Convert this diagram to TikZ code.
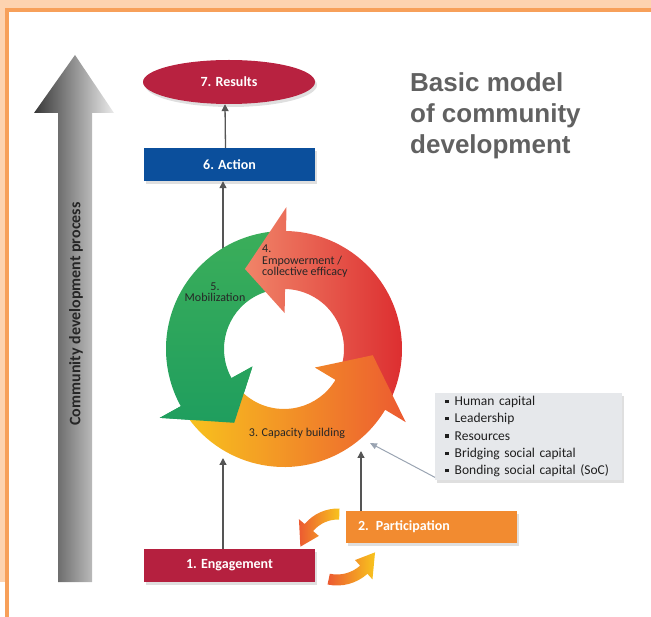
\documentclass[tikz,border=0pt]{standalone}
\usepackage{fontspec}
\setmainfont{Carlito}
\newfontfamily\headfont{Liberation Sans}
\usetikzlibrary{shapes.geometric,arrows.meta,shadows}

\definecolor{resred}{HTML}{B82240}
\definecolor{actblue}{HTML}{0B4F9C}
\definecolor{engred}{HTML}{B5203F}
\definecolor{parorange}{HTML}{F28B30}
\definecolor{boxgray}{HTML}{E6E8EB}
\definecolor{linegray}{HTML}{555555}
\definecolor{pale}{HTML}{FDD3B0}
\definecolor{frame}{HTML}{F7A05A}
\definecolor{salmon}{HTML}{F08468}
\definecolor{deepred}{HTML}{DC2B2E}
\definecolor{sunny}{HTML}{F8C41D}
\definecolor{tangerine}{HTML}{F39A2C}
\definecolor{flame}{HTML}{EC5A31}
\definecolor{leaf}{HTML}{3BAE5A}
\definecolor{leafdark}{HTML}{1F9E5E}
\definecolor{pointer}{HTML}{9AA4B2}

% one arrow of the ring: tail angle, head base angle, tip angle
\newcommand{\ringarrow}[3]{(#1:118pt) arc[start angle=#1, end angle=#2, radius=118pt]
  -- (#2:142pt) -- (#3:89pt) -- (#2:36pt) -- (#2:60pt)
  arc[start angle=#2, end angle=#1, radius=60pt] -- cycle}

\begin{document}
\begin{tikzpicture}[x=1pt, y=1pt,
    stage/.style={rectangle, minimum width=171pt, minimum height=33pt, inner sep=0pt,
      text=white, font=\fontsize{14}{16}\selectfont\bfseries,
      drop shadow={shadow xshift=2pt, shadow yshift=-3pt, opacity=0.25}},
    link/.style={draw=linegray, line width=1.3pt, -{Triangle[length=7pt, width=7pt]}},
    cyclabel/.style={font=\fontsize{12}{11.5}\selectfont, text=black!85, inner sep=0pt}]
    \useasboundingbox (0,0) rectangle (651,-617);

    % page frame
    \fill[pale] (0,0) rectangle (651,-8);
    \fill[pale] (0,0) rectangle (5,-582);
    \fill[frame] (5,-8) rectangle (651,-12);
    \fill[frame] (5,-8) rectangle (8.5,-617);

    % process arrow
    \shade[left color=black!78, right color=black!8]
      (58,-582) -- (58,-113) -- (34,-113) -- (75,-55) -- (114,-113) -- (92,-113) -- (92,-582) -- cycle;
    \node[rotate=90, font=\fontsize{16}{18}\selectfont\bfseries, text=black!85] (proc) at (76,-314) {Community development process};

    % title
    \node[anchor=north west, align=left, inner sep=0pt, text=black!62,
      font=\headfont\fontsize{26}{31}\selectfont\bfseries] (title) at (410,-72)
      {Basic model\\of community\\development};

    % stages
    \node[ellipse, fill=resred, minimum width=172pt, minimum height=44pt, inner sep=0pt,
      text=white, font=\fontsize{14}{16}\selectfont\bfseries,
      drop shadow={shadow xshift=2pt, shadow yshift=-3pt, opacity=0.25}] (res) at (229,-82) {7. Results};
    \node[stage, fill=actblue] (act) at (229.5,-164.5) {6. Action};
    \node[stage, fill=engred] (eng) at (229.5,-565.5) {1. Engagement};
    \node[stage, fill=parorange, minimum height=32pt, text width=147pt, align=left, inner xsep=12pt] (par) at (431.5,-527) {2. Participation};

    \node[fill=boxgray, anchor=north west, text width=167pt, inner xsep=10pt, inner ysep=0pt,
      minimum height=87pt, align=left, text=black!88, font=\fontsize{13.5}{17.3}\selectfont,
      drop shadow={shadow xshift=2pt, shadow yshift=-3pt, opacity=0.25}] (info) at (435,-393)
      {\raisebox{2.5pt}{\rule{3.5pt}{3.5pt}}\hspace{6pt}Human capital\\
       \raisebox{2.5pt}{\rule{3.5pt}{3.5pt}}\hspace{6pt}Leadership\\
       \raisebox{2.5pt}{\rule{3.5pt}{3.5pt}}\hspace{6pt}Resources\\
       \raisebox{2.5pt}{\rule{3.5pt}{3.5pt}}\hspace{6pt}Bridging social capital\\
       \raisebox{2.5pt}{\rule{3.5pt}{3.5pt}}\hspace{6pt}Bonding social capital (SoC)};

    % ends of the links on the ring
    \coordinate (ringtop) at (223,-254);
    \coordinate (c3a) at (223,-458);
    \coordinate (c3b) at (361,-451);
    \coordinate (c3c) at (370,-443);

    \draw[link] (ringtop) -- (ringtop |- act.south);
    \draw[link] ([xshift=-4pt]act.north) -- ([xshift=-4pt]res.south);
    \draw[link] (c3a |- eng.north) -- (c3a);
    \draw[link] (c3b |- par.north) -- (c3b);
    \draw[draw=pointer, line width=1pt, -{Triangle[length=7pt, width=6pt]}]
      ([yshift=3pt]info.south west) -- (c3c);

    % the ring
    \begin{scope}[shift={(284,-349)}]
        \shade[top color=leaf, bottom color=leafdark] \ringarrow{92}{209}{236};
        \shade[left color=salmon, right color=deepred] \ringarrow{-26}{89}{116};
        \shade[left color=sunny, middle color=tangerine, right color=flame] \ringarrow{212}{329}{356};
        \begin{scope}
            \clip (209:142pt) -- (236:89pt) -- (209:36pt) -- cycle;
            \shade[top color=leaf, bottom color=leafdark] \ringarrow{92}{209}{236};
        \end{scope}
    \end{scope}

    \node[cyclabel, anchor=north west, align=left] (lab4) at (262,-245) {4.\\Empowerment /\\collective efficacy};
    \node[cyclabel, align=center] (lab5) at (215,-292) {5.\\Mobilization};
    \node[cyclabel] (lab3) at (297,-433) {3. Capacity building};

    % swap arrows between engagement and participation
    \begin{scope}[shift={(338,-552)}]
        \shade[left color=flame, right color=sunny] (88:43.5pt) arc[start angle=88, end angle=140, radius=43.5pt]
          -- (140:51pt) -- (172:38pt) -- (140:25pt) -- (140:32.5pt)
          arc[start angle=140, end angle=88, radius=32.5pt] -- cycle;
    \end{scope}
    \begin{scope}[shift={(337,-540)}]
        \shade[left color=flame, right color=sunny] (258:45.5pt) arc[start angle=258, end angle=312, radius=45.5pt]
          -- (312:53pt) -- (342:40pt) -- (312:27pt) -- (312:34.5pt)
          arc[start angle=312, end angle=258, radius=34.5pt] -- cycle;
    \end{scope}
\end{tikzpicture}
\end{document}
